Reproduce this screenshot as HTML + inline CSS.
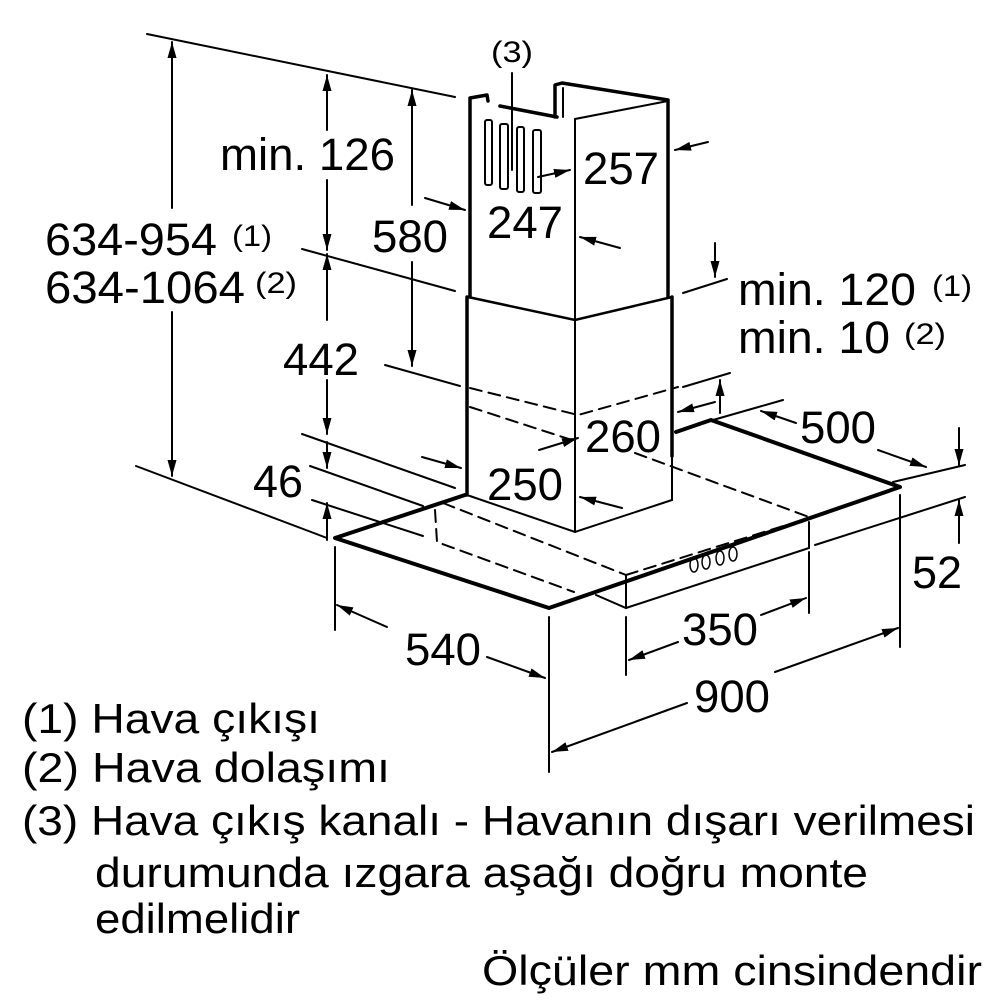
<!DOCTYPE html>
<html><head><meta charset="utf-8"><style>
html,body{margin:0;padding:0;background:#fff}
svg{display:block}
text{font-family:"Liberation Sans",Arial,sans-serif;fill:#000}
</style></head><body>
<svg width="1000" height="1000" viewBox="0 0 1000 1000" xmlns="http://www.w3.org/2000/svg">
<defs>
<marker id="a" viewBox="0 0 16 10" refX="16" refY="5" markerWidth="16" markerHeight="10" markerUnits="userSpaceOnUse" orient="auto"><path d="M0,0.5 L16,5 L0,9.5 Z" fill="#000"/></marker>
</defs>
<g stroke="#000" fill="none" stroke-width="2" stroke-linecap="round">
<line x1="147" y1="34" x2="455" y2="97"/>
<line x1="136" y1="466" x2="327" y2="538"/>
<line x1="302" y1="249" x2="455" y2="291"/>
<line x1="385" y1="365" x2="460" y2="386"/>
<line x1="302" y1="434" x2="455" y2="488"/>
<line x1="310" y1="466" x2="423" y2="506"/>
<line x1="312" y1="500" x2="423" y2="536"/>
<line x1="172" y1="208" x2="172" y2="42" marker-end="url(#a)"/>
<line x1="172" y1="312" x2="172" y2="476" marker-end="url(#a)"/>
<line x1="327" y1="130" x2="327" y2="75" marker-end="url(#a)"/>
<line x1="327" y1="180" x2="327" y2="250" marker-end="url(#a)"/>
<line x1="327" y1="320" x2="327" y2="254" marker-end="url(#a)"/>
<line x1="327" y1="380" x2="327" y2="434" marker-end="url(#a)"/>
<line x1="327" y1="442" x2="327" y2="468" marker-end="url(#a)"/>
<line x1="327" y1="540" x2="327" y2="503" marker-end="url(#a)"/>
<line x1="412" y1="205" x2="412" y2="90" marker-end="url(#a)"/>
<line x1="412" y1="262" x2="412" y2="366" marker-end="url(#a)"/>
<g stroke-width="3.5" stroke-linejoin="round">
<polyline points="470,297 470,98 487,95 488,101"/>
<line x1="500" y1="106" x2="557" y2="117"/>
<polyline points="555,117 555,85 562,83 668,100 668,297"/>
</g>
<line x1="563" y1="88" x2="563" y2="117"/>
<polyline points="575,320 575,119 668,101" stroke-width="2"/>
<polyline points="468,297 575,320 672,297" stroke-width="2.5"/>
<rect x="485" y="120" width="7" height="65" rx="2"/>
<rect x="500" y="124" width="8" height="65" rx="2"/>
<rect x="517" y="127" width="7" height="65" rx="2"/>
<rect x="533" y="130" width="8" height="63" rx="2"/>
<line x1="512" y1="73" x2="512" y2="170"/>
<g stroke-width="3.5">
<line x1="467" y1="297" x2="467" y2="495"/>
<line x1="672" y1="297" x2="672" y2="456"/>
</g>
<line x1="672" y1="456" x2="672" y2="500" stroke-width="2"/>
<line x1="575" y1="320" x2="575" y2="532"/>
<polyline points="467,495 575,532 672,500"/>
<g stroke-width="4" stroke-linejoin="round">
<polyline points="465,495 335,538 549,608 900,487 711,420 676,432"/>
</g>
<polyline points="596,595 626,608 809,548 809,522"/>
<line x1="626" y1="575" x2="626" y2="608"/>
<g stroke-dasharray="12,7" stroke-width="2">
<polyline points="470,388 578,415 678,387"/>
<line x1="470" y1="407" x2="578" y2="442"/>
<line x1="635" y1="453" x2="809" y2="517"/>
<polyline points="435,510 437,542 574,592"/>
<line x1="443" y1="503" x2="626" y2="575"/>
<line x1="626" y1="575" x2="809" y2="518"/>
</g>
<g stroke-width="1.5">
<ellipse cx="694" cy="565" rx="4" ry="7"/>
<ellipse cx="706" cy="562" rx="4" ry="7"/>
<ellipse cx="720" cy="558" rx="4" ry="7"/>
<ellipse cx="733" cy="554" rx="4" ry="7"/>
</g>
<line x1="538" y1="177" x2="570" y2="170" marker-end="url(#a)"/>
<line x1="708" y1="142" x2="675" y2="150" marker-end="url(#a)"/>
<line x1="425" y1="198" x2="465" y2="210" marker-end="url(#a)"/>
<line x1="620" y1="248" x2="580" y2="237" marker-end="url(#a)"/>
<line x1="539" y1="450" x2="578" y2="438" marker-end="url(#a)"/>
<line x1="715" y1="402" x2="678" y2="412" marker-end="url(#a)"/>
<line x1="422" y1="457" x2="461" y2="468" marker-end="url(#a)"/>
<line x1="622" y1="508" x2="580" y2="497" marker-end="url(#a)"/>
<line x1="715" y1="243" x2="715" y2="277" marker-end="url(#a)"/>
<line x1="683" y1="293" x2="727" y2="279"/>
<line x1="720" y1="413" x2="720" y2="380" marker-end="url(#a)"/>
<line x1="683" y1="387" x2="730" y2="373"/>
<line x1="713" y1="420" x2="783" y2="400"/>
<line x1="796" y1="423" x2="761" y2="411" marker-end="url(#a)"/>
<line x1="878" y1="450" x2="926" y2="467" marker-end="url(#a)"/>
<line x1="893" y1="482" x2="965" y2="465"/>
<line x1="959" y1="428" x2="959" y2="465" marker-end="url(#a)"/>
<line x1="815" y1="545" x2="965" y2="497"/>
<line x1="959" y1="543" x2="959" y2="500" marker-end="url(#a)"/>
<line x1="335" y1="547" x2="335" y2="630"/>
<line x1="549" y1="617" x2="549" y2="772"/>
<line x1="626" y1="617" x2="626" y2="675"/>
<line x1="809" y1="552" x2="809" y2="613"/>
<line x1="900" y1="495" x2="900" y2="647"/>
<line x1="387" y1="627" x2="337" y2="605" marker-end="url(#a)"/>
<line x1="487" y1="657" x2="545" y2="678" marker-end="url(#a)"/>
<line x1="678" y1="642" x2="629" y2="660" marker-end="url(#a)"/>
<line x1="761" y1="615" x2="806" y2="598" marker-end="url(#a)"/>
<line x1="687" y1="703" x2="552" y2="752" marker-end="url(#a)"/>
<line x1="775" y1="672" x2="898" y2="628" marker-end="url(#a)"/>
</g>
<g font-size="45">
<text x="220" y="170" textLength="175" lengthAdjust="spacingAndGlyphs">min. 126</text>
<text x="372" y="252" textLength="76" lengthAdjust="spacingAndGlyphs">580</text>
<text x="283" y="375" textLength="76" lengthAdjust="spacingAndGlyphs">442</text>
<text x="253" y="497" textLength="50" lengthAdjust="spacingAndGlyphs">46</text>
<text x="45" y="255" textLength="172" lengthAdjust="spacingAndGlyphs">634-954</text>
<text x="45" y="303" textLength="200" lengthAdjust="spacingAndGlyphs">634-1064</text>
<text x="583" y="184" textLength="76" lengthAdjust="spacingAndGlyphs">257</text>
<text x="487" y="238" textLength="76" lengthAdjust="spacingAndGlyphs">247</text>
<text x="585" y="452" textLength="76" lengthAdjust="spacingAndGlyphs">260</text>
<text x="487" y="500" textLength="76" lengthAdjust="spacingAndGlyphs">250</text>
<text x="738" y="305" textLength="178" lengthAdjust="spacingAndGlyphs">min. 120</text>
<text x="738" y="353" textLength="152" lengthAdjust="spacingAndGlyphs">min. 10</text>
<text x="800" y="443" textLength="76" lengthAdjust="spacingAndGlyphs">500</text>
<text x="912" y="588" textLength="50" lengthAdjust="spacingAndGlyphs">52</text>
<text x="405" y="665" textLength="76" lengthAdjust="spacingAndGlyphs">540</text>
<text x="682" y="645" textLength="76" lengthAdjust="spacingAndGlyphs">350</text>
<text x="694" y="712" textLength="76" lengthAdjust="spacingAndGlyphs">900</text>
</g>
<g font-size="30">
<text x="232" y="246" textLength="40" lengthAdjust="spacingAndGlyphs">(1)</text>
<text x="255" y="293" textLength="42" lengthAdjust="spacingAndGlyphs">(2)</text>
<text x="932" y="296" textLength="40" lengthAdjust="spacingAndGlyphs">(1)</text>
<text x="904" y="344" textLength="42" lengthAdjust="spacingAndGlyphs">(2)</text>
<text x="491" y="62" textLength="42" lengthAdjust="spacingAndGlyphs">(3)</text>
</g>
<g font-size="42">
<text x="22" y="733" textLength="298" lengthAdjust="spacingAndGlyphs">(1) Hava çıkışı</text>
<text x="22" y="782" textLength="368" lengthAdjust="spacingAndGlyphs">(2) Hava dolaşımı</text>
<text x="22" y="835" textLength="953" lengthAdjust="spacingAndGlyphs">(3) Hava çıkış kanalı - Havanın dışarı verilmesi</text>
<text x="95" y="887" textLength="773" lengthAdjust="spacingAndGlyphs">durumunda ızgara aşağı doğru monte</text>
<text x="95" y="933" textLength="205" lengthAdjust="spacingAndGlyphs">edilmelidir</text>
<text x="482" y="985" textLength="500" lengthAdjust="spacingAndGlyphs">Ölçüler mm cinsindendir</text>
</g>
</svg>
</body></html>
